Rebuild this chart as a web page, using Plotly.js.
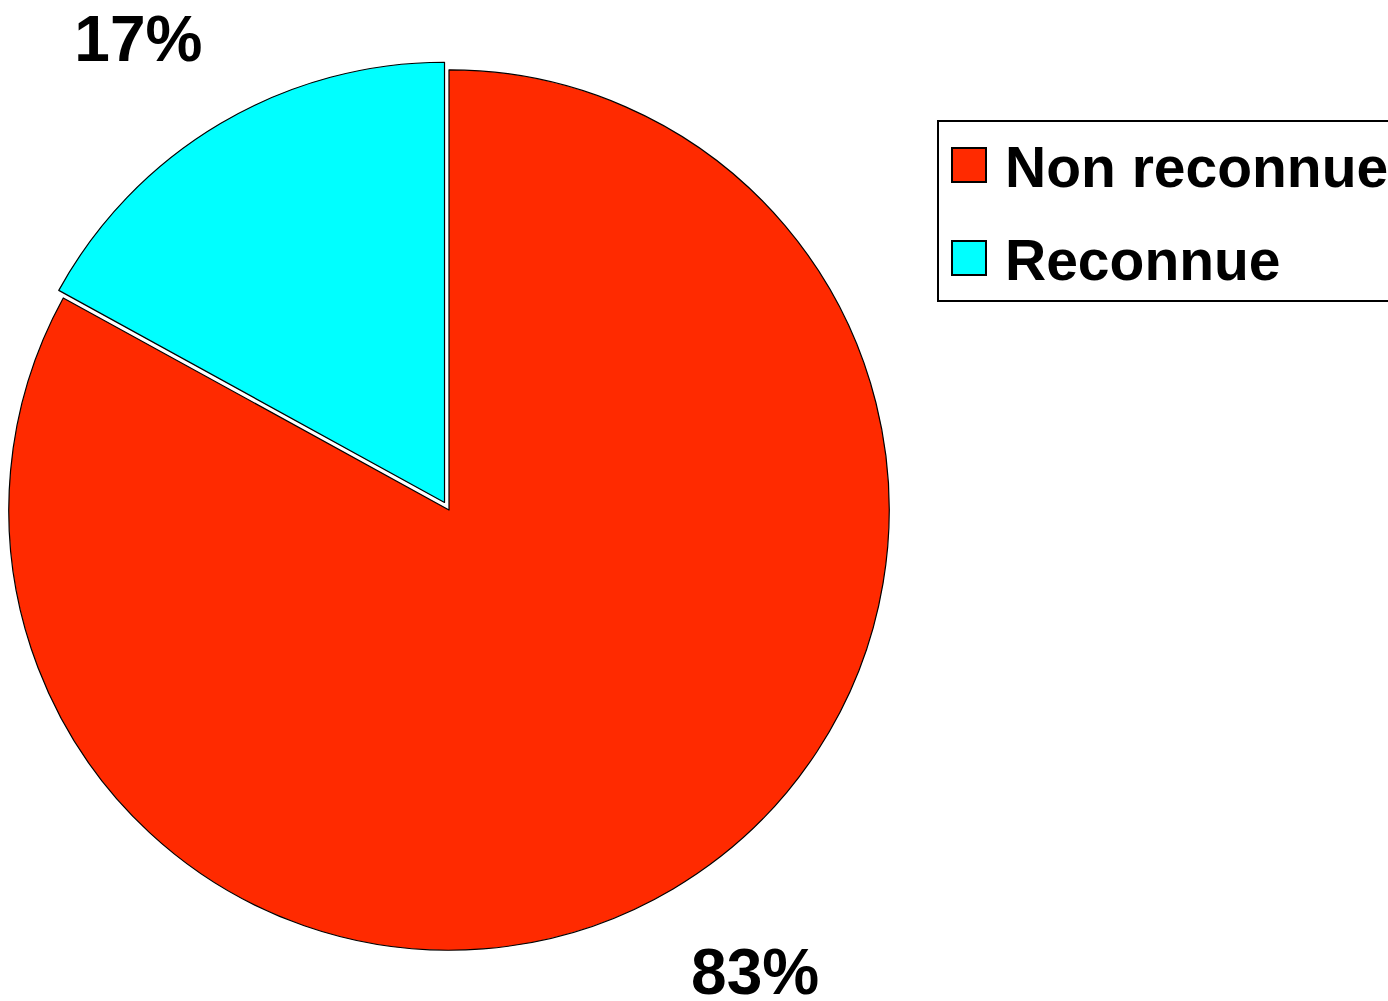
<!DOCTYPE html>
<html>
<head>
<meta charset="utf-8">
<script src="https://cdn.plot.ly/plotly-3.0.1.min.js"></script>
<style>
  html, body { margin: 0; padding: 0; background: #fff; overflow: hidden; }
  #chart { width: 1388px; height: 1001px; }
</style>
</head>
<body>
<div id="chart"></div>
<script>
const labels = ["Non reconnue", "Reconnue"];
const values = [83, 17];
const colors = ["#FF2A00", "#00FFFF"];
const pulls = [0, 0.02];

// style: outside labels sit a little further out vertically, as in the original
const labelStretchY = 1.14;

const trace = {
  type: "pie",
  labels: labels,
  values: values,
  sort: false,
  direction: "clockwise",
  rotation: 0,
  pull: pulls,
  marker: { colors: colors, line: { color: "#000000", width: 1.2 } },
  texttemplate: "%{percent:.0%}",
  textposition: "outside",
  outsidetextfont: { family: "Liberation Sans, Arial, sans-serif", size: 64, color: "#000000", weight: "bold" },
  hoverinfo: "label+percent",
  domain: { x: [0, 898 / 1388], y: [0.031, 0.95] }
};

const layout = {
  width: 1388,
  height: 1001,
  margin: { l: 0, r: 0, t: 0, b: 0, autoexpand: false },
  paper_bgcolor: "#ffffff",
  showlegend: true,
  legend: {
    x: 937 / 1388,
    y: 1 - 120 / 1001,
    xanchor: "left",
    yanchor: "top",
    bordercolor: "#000000",
    borderwidth: 1.5,
    bgcolor: "#ffffff",
    font: { family: "Liberation Sans, Arial, sans-serif", size: 57, color: "#000000", weight: "bold" },
    traceorder: "normal"
  }
};

function parseTranslate(el) {
  const t = el.getAttribute("transform") || "";
  const m = t.match(/translate\(\s*([-\d.e]+)[ ,]+([-\d.e]+)\s*\)/);
  return m ? [parseFloat(m[1]), parseFloat(m[2])] : [0, 0];
}

Plotly.newPlot("chart", [trace], layout, { displayModeBar: false, staticPlot: true }).then(function (gd) {
  // push outside percentage labels outward vertically
  const fl = gd._fullLayout;
  const dom = gd._fullData[0].domain;
  const pieCy = fl._size.t + fl._size.h * (1 - (dom.y[0] + dom.y[1]) / 2);
  gd.querySelectorAll("g.slicetext").forEach(function (g) {
    const r = g.getBoundingClientRect();
    const cy = (r.top + r.bottom) / 2;
    const dy = (cy - pieCy) * (labelStretchY - 1);
    const old = g.getAttribute("transform") || "";
    g.setAttribute("transform", "translate(0," + dy + ") " + old);
  });

  // Enlarge legend symbols and spacing to match the original legend styling
  const leg = gd.querySelector("g.legend");
  if (!leg) return;
  const legLeft = 937, itemSpacing = 93, firstCenter = 165;
  const bg = leg.querySelector("rect.bg");
  if (bg) {
    bg.setAttribute("height", 180);
    bg.setAttribute("width", 1388 - legLeft + 20);
  }
  const scrollbox = leg.querySelector("g.scrollbox");
  if (scrollbox && scrollbox.getAttribute("clip-path")) {
    const id = scrollbox.getAttribute("clip-path").match(/#([^)'"]+)/);
    if (id) {
      const cp = document.getElementById(id[1]);
      if (cp) cp.querySelectorAll("rect").forEach(function (r) {
        r.setAttribute("height", 400); r.setAttribute("width", 600);
      });
    }
  }
  const items = leg.querySelectorAll("g.traces");
  items.forEach(function (item, i) {
    const path = item.querySelector(".legendpoints path");
    if (path) {
      path.setAttribute("d", "M17,17H-17V-17H17Z");
      path.style.strokeWidth = "2px";
    }
    const pts = item.querySelector(".legendpoints");
    const r = path.getBoundingClientRect();
    const cx = (r.left + r.right) / 2, cy = (r.top + r.bottom) / 2;
    const [tx, ty] = parseTranslate(item);
    item.setAttribute("transform", "translate(" + tx + "," + (ty + (firstCenter + itemSpacing * i - cy)) + ")");
    const [px, py] = parseTranslate(pts);
    pts.setAttribute("transform", "translate(" + (px + (969 - cx)) + "," + py + ")");
    const txt = item.querySelector("text.legendtext");
    if (txt) {
      const tr = txt.getBoundingClientRect();
      txt.setAttribute("transform", "translate(" + (1005 - tr.left) + ",0)");
    }
  });
});
</script>
</body>
</html>
